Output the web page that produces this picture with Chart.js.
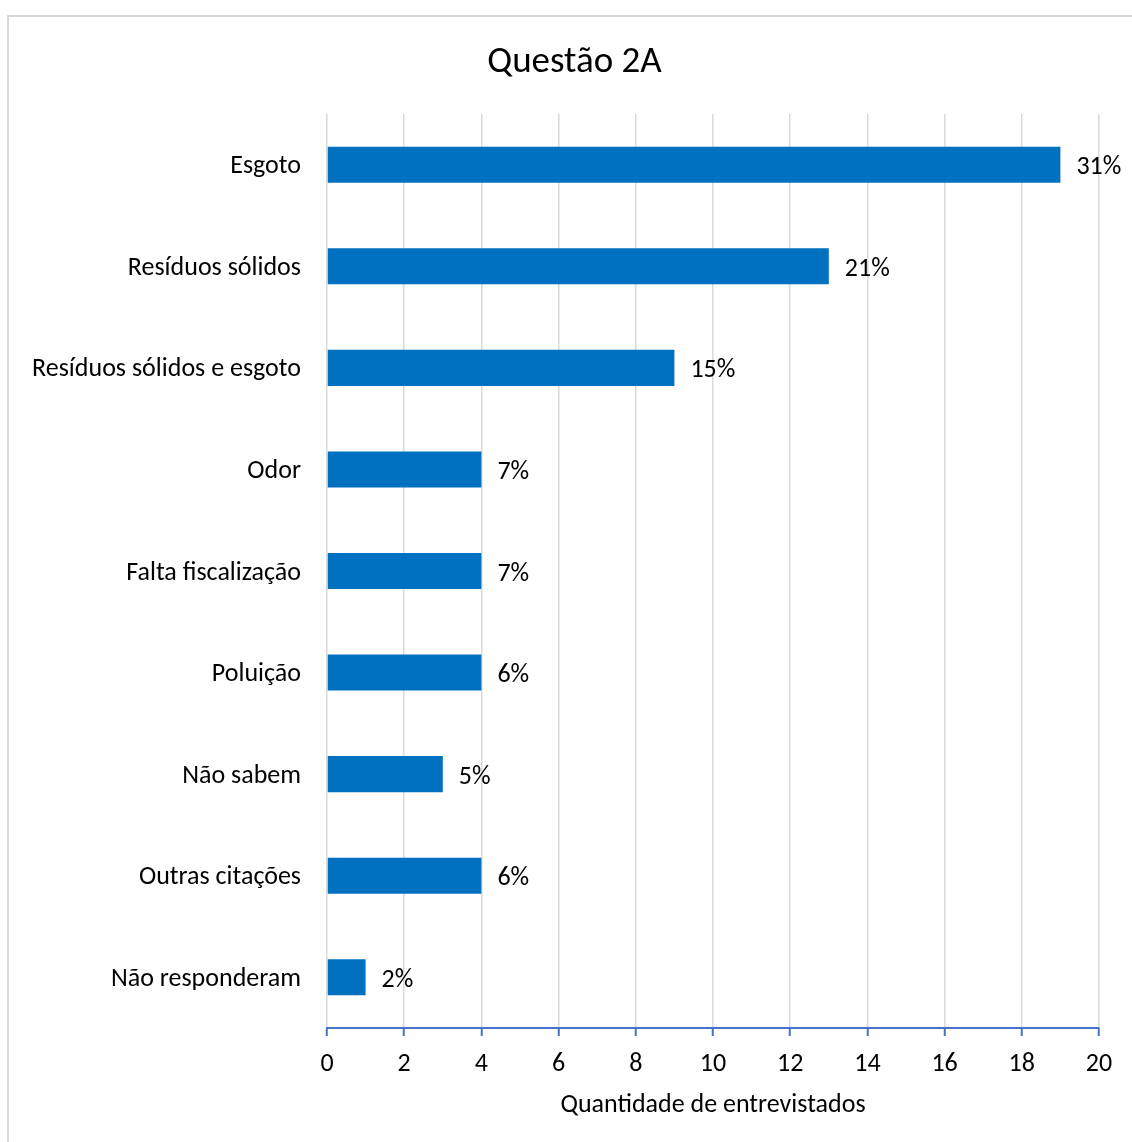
<!DOCTYPE html>
<html lang="pt">
<head>
<meta charset="UTF-8">
<title>Questão 2A</title>
<script src="https://cdn.jsdelivr.net/npm/chart.js"></script>
<style>
    body {
        margin: 0;
        padding: 0;
        background: #ffffff;
        overflow: hidden;
    }
    .frame {
        position: absolute;
        left: 7px;
        top: 15px;
        width: 1200px;
        height: 1200px;
        border: 1px solid #d9d9d9;
        border-width: 2px 0 0 2px;
    }
    .wrap {
        position: absolute;
        left: 0;
        top: 0;
        width: 1132px;
        height: 1142px;
    }
</style>
</head>
<body>
<div class="frame"></div>
<div class="wrap"><canvas id="chart" width="1132" height="1142"></canvas></div>

<script>
    // Answers to question 2A
    const categories = [
        'Esgoto',
        'Resíduos sólidos',
        'Resíduos sólidos e esgoto',
        'Odor',
        'Falta fiscalização',
        'Poluição',
        'Não sabem',
        'Outras citações',
        'Não responderam'
    ];
    const counts = [19, 13, 9, 4, 4, 4, 3, 4, 1];
    const percents = ['31%', '21%', '15%', '7%', '7%', '6%', '5%', '6%', '2%'];
    const xTicks = [0, 2, 4, 6, 8, 10, 12, 14, 16, 18, 20];

    const FONT = "Carlito, Calibri, Lato, sans-serif";

    // percentage written just past the end of each bar
    const barLabels = {
        id: 'barLabels',
        afterLayout(chart) {
            // title sits a little right of the canvas centre
            chart.titleBlock.left += 50;
        },
        afterDatasetsDraw(chart) {
            const ctx = chart.ctx;
            const meta = chart.getDatasetMeta(0);
            ctx.save();
            ctx.font = '26px ' + FONT;
            ctx.fillStyle = '#000000';
            ctx.textAlign = 'left';
            ctx.textBaseline = 'middle';
            meta.data.forEach((bar, i) => {
                ctx.fillText(percents[i], bar.x + 16, bar.y + 3);
            });
            ctx.restore();
        }
    };

    new Chart(document.getElementById('chart'), {
        type: 'bar',
        data: {
            labels: categories,
            datasets: [{
                data: counts,
                backgroundColor: '#0070C0',
                barPercentage: 0.355,
                categoryPercentage: 1
            }]
        },
        options: {
            indexAxis: 'y',
            responsive: false,
            animation: false,
            layout: { padding: { left: 0, right: 33, top: 0, bottom: 0 } },
            plugins: {
                legend: { display: false },
                tooltip: { enabled: false },
                title: {
                    display: true,
                    text: 'Questão 2A',
                    color: '#000000',
                    font: { family: FONT, size: 37, weight: 'normal' },
                    padding: { top: 41, bottom: 28.6 }
                }
            },
            scales: {
                x: {
                    min: 0,
                    max: 20,
                    afterBuildTicks(scale) {
                        scale.ticks = xTicks.map(v => ({ value: v }));
                    },
                    afterFit(scale) { scale.height = 114; },
                    grid: {
                        color: '#d9d9d9',
                        lineWidth: 1.5,
                        tickColor: '#4472C4',
                        tickLength: 8,
                        tickWidth: 2
                    },
                    border: { display: true, color: '#4472C4', width: 2 },
                    ticks: {
                        color: '#000000',
                        padding: 13,
                        font: { family: FONT, size: 26 }
                    },
                    title: {
                        display: true,
                        text: 'Quantidade de entrevistados',
                        color: '#000000',
                        font: { family: FONT, size: 26 },
                        padding: { top: 0, bottom: 21 }
                    }
                },
                y: {
                    afterFit(scale) { scale.width = 327; },
                    grid: { display: false },
                    border: { display: false },
                    ticks: {
                        color: '#000000',
                        padding: 18,
                        labelOffset: 2,
                        font: { family: FONT, size: 26 }
                    }
                }
            }
        },
        plugins: [barLabels]
    });
</script>
</body>
</html>
